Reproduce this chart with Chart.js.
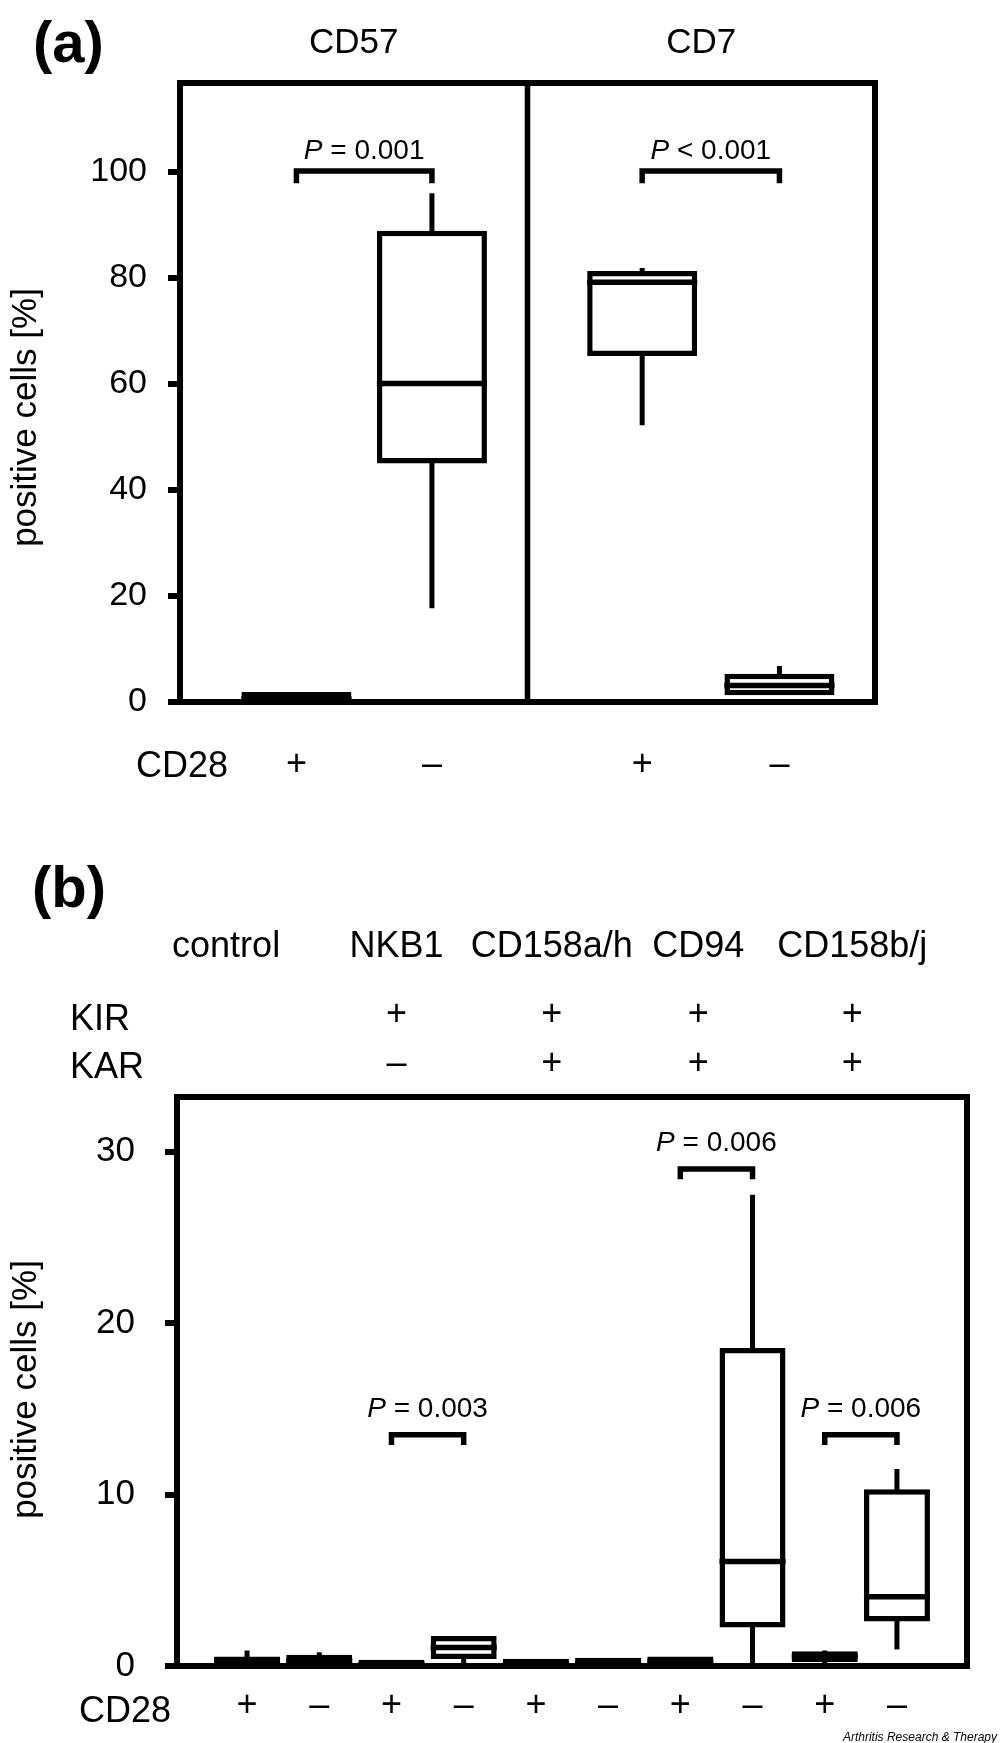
<!DOCTYPE html>
<html>
<head>
<meta charset="utf-8">
<script src="https://cdn.jsdelivr.net/npm/chart.js@4.4.1/dist/chart.umd.min.js"></script>
<style>
  html, body { margin: 0; padding: 0; background: #fff; }
  canvas { display: block; }
</style>
</head>
<body>
<canvas id="panelA" width="1000" height="800"></canvas>
<canvas id="panelB" width="1000" height="943"></canvas>
<script>
// --- panel (a) data ---
const aMarkers = ["CD57", "CD7"];
const aCd28 = ["+", "–", "+", "–"];
const aMin    = [0.0, 17.7, 52.2, 1.3];
const aQ1     = [0.2, 45.5, 65.8, 1.8];
const aMedian = [0.6, 60.1, 79.2, 3.1];
const aQ3     = [1.35, 88.4, 80.8, 4.8];
const aMax    = [1.35, 96.0, 81.9, 6.8];
const aTicks  = [0, 20, 40, 60, 80, 100];
const aPPairs = [[0, 1], [2, 3]];
const aPText  = ["= 0.001", "< 0.001"];
const aPLevel = [100.2, 100.2];

// --- panel (b) data ---
const bMarkers = ["control", "NKB1", "CD158a/h", "CD94", "CD158b/j"];
const bKir = ["", "+", "+", "+", "+"];
const bKar = ["", "–", "+", "+", "+"];
const bCd28 = ["+", "–", "+", "–", "+", "–", "+", "–", "+", "–"];
const bMin    = [0, 0, 0, 0.18, 0, 0, 0, 0.1, 0, 0.97];
const bQ1     = [0.1, 0.15, 0.05, 0.57, 0.05, 0.05, 0.1, 2.41, 0.4, 2.76];
const bMedian = [0.25, 0.3, 0.1, 1.08, 0.12, 0.15, 0.25, 6.1, 0.55, 4.04];
const bQ3     = [0.40, 0.50, 0.20, 1.59, 0.26, 0.32, 0.40, 18.4, 0.70, 10.15];
const bMax    = [0.9, 0.8, 0.2, 1.59, 0.26, 0.32, 0.40, 27.5, 0.9, 11.5];
const bTicks  = [0, 10, 20, 30];
const bPPairs = [[2, 3], [6, 7], [8, 9]];
const bPText  = ["= 0.003", "= 0.006", "= 0.006"];
const bPLevel = [13.5, 29.0, 13.5];

// --- layout (axis units) ---
const A_X = [0.67, 1.45, 2.66, 3.45];
const A_GROUP_X = [1, 3];
const A_DIVIDER = 2;
const B_X = bCd28.map((_, i) => i + 1);
const B_COL_X = [0.71, 3.07, 5.22, 7.25, 9.38];

const INK = "#000";
const FRAME = 6;
const FAMILY = "'Liberation Sans', Arial, sans-serif";
Chart.defaults.font.family = FAMILY;
Chart.defaults.color = INK;

function put(ctx, s, x, y, size, o = {}) {
  ctx.save();
  ctx.font = `${o.style || ""} ${o.weight || ""} ${size}px ${o.family || FAMILY}`;
  ctx.fillStyle = INK;
  ctx.textAlign = o.align || "center";
  ctx.textBaseline = o.baseline || "alphabetic";
  ctx.translate(x, y);
  if (o.rotate) ctx.rotate(o.rotate);
  ctx.fillText(s, 0, 0);
  ctx.restore();
}

function pValue(ctx, label, cx, base, size) {
  ctx.save();
  ctx.fillStyle = INK;
  ctx.textAlign = "left";
  ctx.textBaseline = "alphabetic";
  const it = `italic ${size}px ${FAMILY}`;
  const up = `${size}px ${FAMILY}`;
  const rest = " " + label;
  ctx.font = it;
  const wP = ctx.measureText("P").width;
  ctx.font = up;
  const wR = ctx.measureText(rest).width;
  const x0 = cx - (wP + wR) / 2;
  ctx.font = it;
  ctx.fillText("P", x0, base);
  ctx.font = up;
  ctx.fillText(rest, x0 + wP, base);
  ctx.restore();
}

function frame(position) {
  return {
    type: "linear", position, display: true,
    ticks: { display: false },
    grid: { display: false, drawTicks: false, lineWidth: FRAME },
    border: { display: true, width: FRAME, color: INK },
    afterFit: (s) => { if (s.isHorizontal()) s.height = 0; else s.width = 0; },
  };
}

function lineSet(label, data, width, order, extra = {}) {
  return Object.assign({
    type: "line", label, data, order,
    borderColor: INK, borderWidth: width, pointRadius: 0,
    borderCapStyle: "butt", borderJoinStyle: "miter",
    spanGaps: false, fill: false, tension: 0,
  }, extra);
}

function buildPanel(el, p) {
  const boxes = p.xs.map((x, i) => ({ x, y: [p.q1[i] - p.pad, p.q3[i] + p.pad] }));
  const whiskers = [];
  const medians = [];
  p.xs.forEach((x, i) => {
    whiskers.push({ x, y: p.q3[i] }, { x, y: p.max[i] }, { x, y: null });
    whiskers.push({ x, y: p.min[i] }, { x, y: p.q1[i] }, { x, y: null });
    medians.push({ x: x - p.half, y: p.med[i] }, { x: x + p.half, y: p.med[i] }, { x, y: null });
  });
  const brackets = [];
  p.pairs.forEach(([i, j], k) => {
    const top = p.levels[k];
    brackets.push(
      { x: p.xs[i], y: top - p.leg }, { x: p.xs[i], y: top },
      { x: p.xs[j], y: top }, { x: p.xs[j], y: top - p.leg }, { x: p.xs[j], y: null }
    );
  });

  const datasets = [
    lineSet("whiskers", whiskers, 5, 5),
    {
      type: "bar", label: "boxes", data: boxes, order: 3,
      backgroundColor: "#fff", borderColor: INK, borderWidth: 5.5,
      borderSkipped: false, barThickness: p.barPx, inflateAmount: 0,
    },
    lineSet("medians", medians, 5.5, 2),
    lineSet("brackets", brackets, 5.5, 1),
  ];
  if (p.divider != null) {
    datasets.push(lineSet("divider", [{ x: p.divider, y: 0 }, { x: p.divider, y: p.yMax }], 5.5, 4));
  }

  return new Chart(el, {
    type: "bar",
    data: { datasets },
    options: {
      responsive: false,
      animation: false,
      devicePixelRatio: 1,
      layout: { padding: { top: p.top, right: p.right, left: 0, bottom: 0 } },
      plugins: { legend: { display: false }, tooltip: { enabled: false } },
      scales: {
        x: {
          type: "linear", min: p.xMin, max: p.xMax, offset: false,
          afterBuildTicks: (s) => { s.ticks = p.xs.map((v) => ({ value: v })); },
          afterFit: (s) => { s.height = p.xAxisH; },
          ticks: {
            autoSkip: false, maxRotation: 0, minRotation: 0,
            padding: p.xPad, font: { size: 36 }, color: INK,
            callback: (v, i) => p.cd28[i],
          },
          grid: { display: false, drawTicks: false, lineWidth: FRAME },
          border: { display: true, width: FRAME, color: INK },
        },
        y: {
          type: "linear", min: 0, max: p.yMax,
          afterBuildTicks: (s) => { s.ticks = p.ticks.map((v) => ({ value: v })); },
          afterFit: (s) => { s.width = p.left; },
          ticks: { padding: p.yPad, font: { size: p.yFont }, color: INK },
          grid: {
            display: true, drawOnChartArea: false, drawTicks: true,
            tickLength: 12, tickWidth: FRAME, tickColor: INK, color: INK, lineWidth: FRAME,
          },
          border: { display: true, width: FRAME, color: INK },
        },
        x2: frame("top"),
        y2: frame("right"),
      },
    },
    plugins: [{ id: "decor", afterDraw: (chart) => p.decor(chart) }],
  });
}

// --- panel (a) ---
buildPanel(document.getElementById("panelA"), {
  xs: A_X, min: aMin, q1: aQ1, med: aMedian, q3: aQ3, max: aMax,
  cd28: aCd28, ticks: aTicks, pairs: aPPairs, levels: aPLevel,
  xMin: 0, xMax: 4, yMax: 116.8, divider: A_DIVIDER,
  pad: 0.52, half: 0.317, leg: 2.3, barPx: 110,
  top: 83, right: 125, left: 180, xAxisH: 98, xPad: 41, yPad: 21, yFont: 34,
  decor(chart) {
    const { ctx, scales: { x, y }, chartArea: ca } = chart;
    put(ctx, "(a)", 33, 62, 58, { weight: "bold", align: "left" });
    aMarkers.forEach((m, g) => put(ctx, m, x.getPixelForValue(A_GROUP_X[g]), 53, 35));
    put(ctx, "CD28", 228, 777, 36, { align: "right" });
    put(ctx, "positive cells [%]", 26, (ca.top + ca.bottom) / 2 + 25, 35,
      { rotate: -Math.PI / 2, baseline: "middle" });
    aPPairs.forEach(([i, j], k) => {
      const cx = (x.getPixelForValue(A_X[i]) + x.getPixelForValue(A_X[j])) / 2;
      pValue(ctx, aPText[k], cx, y.getPixelForValue(aPLevel[k]) - 12, 28);
    });
  },
});

// --- panel (b) ---
buildPanel(document.getElementById("panelB"), {
  xs: B_X, min: bMin, q1: bQ1, med: bMedian, q3: bQ3, max: bMax,
  cd28: bCd28, ticks: bTicks, pairs: bPPairs, levels: bPLevel,
  xMin: 0.03, xMax: 10.97, yMax: 33.2, divider: null,
  pad: 0.16, half: 0.457, leg: 0.6, barPx: 66,
  top: 297, right: 33, left: 177, xAxisH: 77, xPad: 18, yPad: 30, yFont: 35,
  decor(chart) {
    const { ctx, scales: { x, y }, chartArea: ca } = chart;
    put(ctx, "(b)", 32, 107, 58, { weight: "bold", align: "left" });
    bMarkers.forEach((m, c) => put(ctx, m, x.getPixelForValue(B_COL_X[c]), 157, 36));
    put(ctx, "KIR", 70, 230, 36, { align: "left" });
    put(ctx, "KAR", 70, 278, 36, { align: "left" });
    bKir.forEach((s, c) => { if (s) put(ctx, s, x.getPixelForValue(B_COL_X[c]), 225, 36); });
    bKar.forEach((s, c) => { if (s) put(ctx, s, x.getPixelForValue(B_COL_X[c]), 274, 36); });
    put(ctx, "CD28", 171, 922, 36, { align: "right" });
    put(ctx, "positive cells [%]", 26, (ca.top + ca.bottom) / 2 + 8, 35,
      { rotate: -Math.PI / 2, baseline: "middle" });
    bPPairs.forEach(([i, j], k) => {
      const cx = (x.getPixelForValue(B_X[i]) + x.getPixelForValue(B_X[j])) / 2;
      pValue(ctx, bPText[k], cx, y.getPixelForValue(bPLevel[k]) - 18, 28);
    });
    put(ctx, "Arthritis Research & Therapy", 997, 941, 12,
      { style: "italic", align: "right", family: "'Liberation Sans Narrow', 'Liberation Sans', Arial, sans-serif" });
  },
});
</script>
</body>
</html>
